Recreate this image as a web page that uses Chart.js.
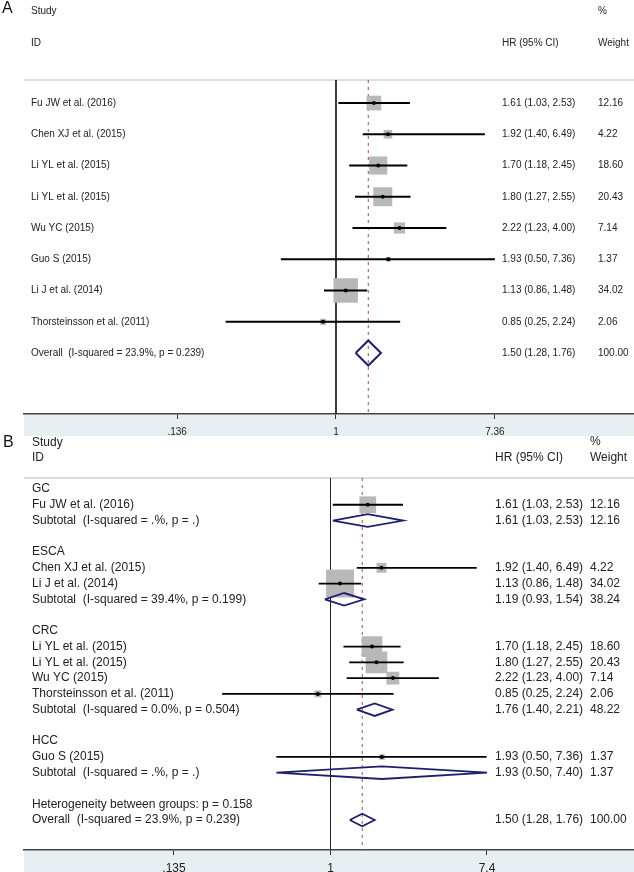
<!DOCTYPE html>
<html>
<head>
<meta charset="utf-8">
<title>Forest plot HR</title>
<script src="https://cdn.jsdelivr.net/npm/chart.js@4.4.0/dist/chart.umd.min.js"></script>
<style>
  body{margin:0;background:#fff;width:634px;height:872px;position:relative;overflow:hidden;font-family:"Liberation Sans",Arial,sans-serif}
  canvas{position:absolute;left:0}
  #chartA{top:0}
  #chartB{top:436px}
  .tag{position:absolute;font-size:16px;color:#111}
</style>
</head>
<body>
<canvas id="chartA" width="634" height="436"></canvas>
<canvas id="chartB" width="634" height="436"></canvas>
<div class="tag" style="left:2px;top:-1px">A</div>
<div class="tag" style="left:3px;top:433px">B</div>
<script>
// ---- panel A : all studies ----
var labelA=["Fu JW et al. (2016)","Chen XJ et al. (2015)","Li YL et al. (2015)","Li YL et al. (2015)",
  "Wu YC (2015)","Guo S (2015)","Li J et al. (2014)","Thorsteinsson et al. (2011)",
  "Overall  (I-squared = 23.9%, p = 0.239)"];
var kindA=["s","s","s","s","s","s","s","s","d"];
var hrA=[1.61,1.92,1.70,1.80,2.22,1.93,1.13,0.85,1.50];
var loA=[1.03,1.40,1.18,1.27,1.23,0.50,0.86,0.25,1.28];
var hiA=[2.53,6.49,2.45,2.55,4.00,7.36,1.48,2.24,1.76];
var weightA=[12.16,4.22,18.60,20.43,7.14,1.37,34.02,2.06,100.00];
var tickValA=[0.136,1,7.36];
var tickTextA=[".136","1","7.36"];

// ---- panel B : by cancer type ----
var labelB=["GC","Fu JW et al. (2016)","Subtotal  (I-squared = .%, p = .)","",
  "ESCA","Chen XJ et al. (2015)","Li J et al. (2014)","Subtotal  (I-squared = 39.4%, p = 0.199)","",
  "CRC","Li YL et al. (2015)","Li YL et al. (2015)","Wu YC (2015)","Thorsteinsson et al. (2011)","Subtotal  (I-squared = 0.0%, p = 0.504)","",
  "HCC","Guo S (2015)","Subtotal  (I-squared = .%, p = .)","",
  "Heterogeneity between groups: p = 0.158","Overall  (I-squared = 23.9%, p = 0.239)"];
var kindB=["h","s","d","", "h","s","s","d","", "h","s","s","s","s","d","", "h","s","d","", "n","d"];
var hrB=[null,1.61,1.61,null, null,1.92,1.13,1.19,null, null,1.70,1.80,2.22,0.85,1.76,null, null,1.93,1.93,null, null,1.50];
var loB=[null,1.03,1.03,null, null,1.40,0.86,0.93,null, null,1.18,1.27,1.23,0.25,1.40,null, null,0.50,0.50,null, null,1.28];
var hiB=[null,2.53,2.53,null, null,6.49,1.48,1.54,null, null,2.45,2.55,4.00,2.24,2.21,null, null,7.36,7.40,null, null,1.76];
var weightB=[null,12.16,12.16,null, null,4.22,34.02,38.24,null, null,18.60,20.43,7.14,2.06,48.22,null, null,1.37,1.37,null, null,100.00];
var tickValB=[0.135,1,7.4];
var tickTextB=[".135","1","7.4"];

var FONT='"Liberation Sans", Arial, sans-serif';

function forest(id, p){
  var boxes=[], radii=[], dots=[], ci=[], dia=[];
  for(var i=0;i<p.label.length;i++){
    if(p.kind[i]==="s"){
      boxes.push({x:p.hr[i],y:i});
      radii.push(p.boxK*Math.sqrt(p.weight[i])/Math.SQRT2);
      dots.push({x:p.hr[i],y:i});
      ci.push({x:p.lo[i],y:i},{x:p.hi[i],y:i},{x:null,y:null});
    } else if(p.kind[i]==="d"){
      dia.push({x:p.lo[i],y:i},{x:p.hr[i],y:i-0.4},{x:p.hi[i],y:i},{x:p.hr[i],y:i+0.4},{x:p.lo[i],y:i},{x:null,y:null});
    }
  }
  var overall=p.hr[p.hr.length-1];

  var band={
    id:"band",
    beforeDraw:function(c){
      var a=c.chartArea, ctx=c.ctx;
      ctx.save();
      ctx.fillStyle="#e7eff2";
      ctx.fillRect(a.left,a.bottom,a.right-a.left,c.height-a.bottom);
      ctx.restore();
    }
  };
  var texts={
    id:"texts",
    afterDatasetsDraw:function(c){
      var ctx=c.ctx, ys=c.scales.y;
      ctx.save();
      ctx.font=p.font+"px "+FONT;
      ctx.fillStyle="#222";
      ctx.textBaseline="middle";
      ctx.textAlign="left";
      ctx.fillText("Study",p.textX,ys.getPixelForValue(p.studyY));
      ctx.fillText("ID",p.textX,ys.getPixelForValue(p.idY));
      ctx.fillText("%",p.wX,ys.getPixelForValue(p.pctY));
      ctx.fillText("HR (95% CI)",p.hrX,ys.getPixelForValue(p.idY));
      ctx.fillText("Weight",p.wX,ys.getPixelForValue(p.idY));
      for(var i=0;i<p.label.length;i++){
        var y=ys.getPixelForValue(i);
        if(p.label[i]) ctx.fillText(p.label[i],p.textX,y);
        if(p.hr[i]!=null){
          ctx.fillText(p.hr[i].toFixed(2)+" ("+p.lo[i].toFixed(2)+", "+p.hi[i].toFixed(2)+")",p.hrX,y);
          ctx.fillText(p.weight[i].toFixed(2),p.wX,y);
        }
      }
      ctx.restore();
    }
  };

  new Chart(document.getElementById(id),{
    type:"scatter",
    data:{datasets:[
      {data:dots,pointRadius:2,pointBackgroundColor:"#000",pointBorderWidth:0,order:0},
      {data:ci,showLine:true,borderColor:"#000",borderWidth:p.lineW,pointRadius:0,spanGaps:false,order:1},
      {data:dia,showLine:true,borderColor:"#1f1f6e",borderWidth:p.lineW,pointRadius:0,spanGaps:false,order:2},
      {data:boxes,pointStyle:"rect",pointRadius:radii,pointBackgroundColor:"#b8b8b8",pointBorderWidth:0,order:3},
      {data:[{x:overall,y:p.sepY},{x:overall,y:p.yMax}],showLine:true,borderColor:"#a8475a",borderWidth:1,borderDash:[3,4],pointRadius:0,order:4},
      {data:[{x:1,y:p.sepY},{x:1,y:p.yMax}],showLine:true,borderColor:"#222",borderWidth:1,pointRadius:0,order:5},
      {data:[{x:p.xMin,y:p.sepY},{x:p.xMax,y:p.sepY}],showLine:true,borderColor:"#cfcfcf",borderWidth:1.5,pointRadius:0,order:6}
    ]},
    options:{
      responsive:false,
      animation:false,
      layout:{autoPadding:false,padding:{left:24,right:0,top:0,bottom:0}},
      plugins:{legend:{display:false},tooltip:{enabled:false}},
      scales:{
        x:{
          type:"logarithmic",min:p.xMin,max:p.xMax,
          afterBuildTicks:function(s){s.ticks=p.tickVal.map(function(v){return {value:v};});},
          afterFit:function(s){s.height=22;},
          ticks:{autoSkip:false,maxRotation:0,padding:p.tickPad,color:"#222",font:{size:p.font,family:FONT},
            callback:function(v,i){return p.tickText[i];}},
          grid:{drawOnChartArea:false,drawTicks:true,tickLength:5,tickColor:"#333",lineWidth:1},
          border:{display:true,color:"#444",width:1.5}
        },
        y:{type:"linear",reverse:true,min:p.yMin,max:p.yMax,display:false}
      }
    },
    plugins:[band,texts]
  });
}

forest("chartA",{label:labelA,kind:kindA,hr:hrA,lo:loA,hi:hiA,weight:weightA,tickVal:tickValA,tickText:tickTextA,
  xMin:0.01985,xMax:42.26,yMin:-3.296,yMax:9.952,sepY:-0.736,studyY:-2.94,idY:-1.92,pctY:-2.94,
  font:10,textX:31,hrX:502,wX:598,boxK:4.2,lineW:2,tickPad:7});
forest("chartB",{label:labelB,kind:kindB,hr:hrB,lo:loB,hi:hiB,weight:weightB,tickVal:tickValB,tickText:tickTextB,
  xMin:0.01982,xMax:48.54,yMin:-3.363,yMax:22.906,sepY:-0.70,studyY:-2.92,idY:-1.97,pctY:-3.0,
  font:12,textX:32,hrX:495,wX:590,boxK:4.8,lineW:1.8,tickPad:6});
</script>
</body>
</html>
